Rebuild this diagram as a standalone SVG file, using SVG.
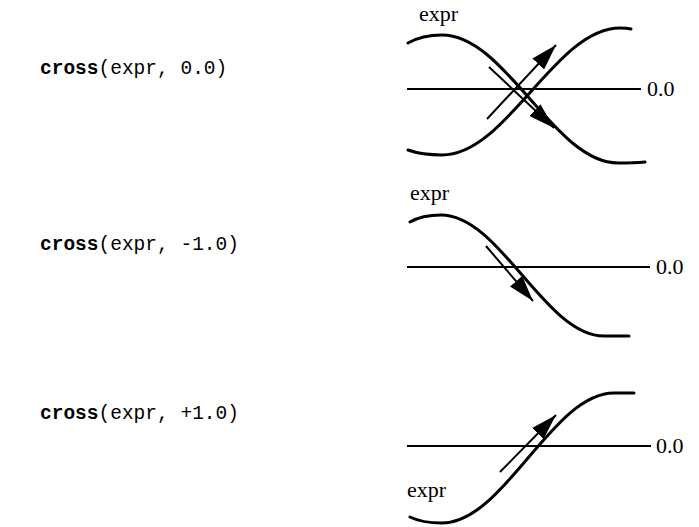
<svg xmlns="http://www.w3.org/2000/svg" width="699" height="527" viewBox="0 0 699 527">
<defs>
<style>
.code{font-family:"Liberation Mono","Courier New",monospace;font-size:19.5px;fill:#000}
.kw{font-weight:bold}
.lbl{font-family:"Liberation Serif","Times New Roman",serif;font-size:22px;fill:#000}
.curve{fill:none;stroke:#000;stroke-width:3;stroke-linecap:round}
.axis{fill:none;stroke:#000;stroke-width:2}
.arr{fill:none;stroke:#000;stroke-width:2;marker-end:url(#head)}
</style>
<marker id="head" viewBox="0 0 26 16" refX="26" refY="8" markerWidth="26" markerHeight="16" markerUnits="userSpaceOnUse" orient="auto">
<path d="M0,0 L26,8 L0,16 Z" fill="#000"/>
</marker>
</defs>
<rect width="699" height="527" fill="#fff"/>
<g id="row1">
<text class="code" x="40" y="74"><tspan class="kw">cross</tspan>(expr, 0.0)</text>
<text class="lbl" x="419" y="21">expr</text>
<text class="lbl" x="647" y="96">0.0</text>
</g>
<g id="row2">
<text class="code" x="40" y="250"><tspan class="kw">cross</tspan>(expr, -1.0)</text>
<text class="lbl" x="410" y="200">expr</text>
<text class="lbl" x="656" y="274">0.0</text>
</g>
<g id="row3">
<text class="code" x="40" y="419"><tspan class="kw">cross</tspan>(expr, +1.0)</text>
<text class="lbl" x="407" y="497">expr</text>
<text class="lbl" x="656" y="453">0.0</text>
</g>
<g id="connectors">
<line class="axis" x1="407" y1="89" x2="641" y2="89"/>
<path class="curve" d="M408,43 Q422,35 442,35 C506,35 554,163 618,163 Q634,163 645,162"/>
<path class="curve" d="M408,150 Q422,155 442,155 C507,155 555,28 620,28 Q627,28 631,29"/>
<line class="arr" x1="487" y1="119" x2="556" y2="45"/>
<line class="arr" x1="489" y1="67" x2="554" y2="128"/>
<line class="axis" x1="407" y1="267" x2="650" y2="267"/>
<path class="curve" d="M410,222 Q422,215 441,215 C500,215 545,336 604,336 Q620,336 629,336"/>
<line class="arr" x1="486" y1="246" x2="533" y2="301"/>
<line class="axis" x1="407" y1="446" x2="651" y2="446"/>
<path class="curve" d="M410,517 Q422,523 442,523 C504,523 552,393 614,393 Q626,393 634,393"/>
<line class="arr" x1="500" y1="472" x2="556" y2="415"/>
</g>
</svg>
